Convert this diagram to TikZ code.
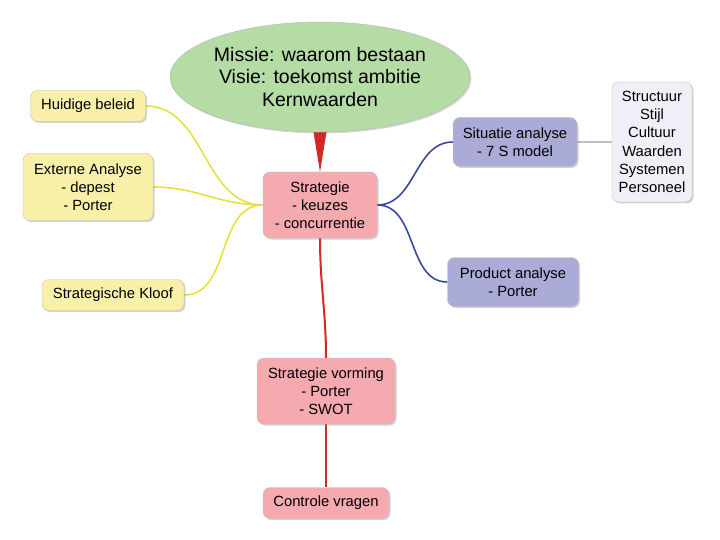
\documentclass[tikz,border=0pt]{standalone}
\usepackage{fontspec}
\setmainfont{Liberation Sans}
\usetikzlibrary{shapes.geometric,shadows,positioning,backgrounds}
\definecolor{mapgreen}{HTML}{B6DCA6}
\definecolor{mapred}{HTML}{F5AAB0}
\definecolor{mapyellow}{HTML}{F8F0A8}
\definecolor{mapblue}{HTML}{ABABD8}
\definecolor{maplilac}{HTML}{EFEFF8}
\definecolor{linkyellow}{HTML}{E8E040}
\definecolor{linkblue}{HTML}{3A4A98}
\definecolor{linkred}{HTML}{D42828}

\begin{document}
\begin{tikzpicture}[
  x=1pt, y=-1pt,
  mapbox/.style={draw=black!25, rounded corners=7pt, align=center,
    font=\fontsize{14.8}{18.2}\selectfont, inner xsep=6pt, inner ysep=5pt,
    drop shadow={shadow xshift=1.5pt, shadow yshift=-1.5pt, opacity=0.35}},
  central/.style={mapbox, fill=mapred},
  leftbox/.style={mapbox, fill=mapyellow},
  rightbox/.style={mapbox, fill=mapblue},
  yellowlink/.style={linkyellow, line width=1.6pt},
  bluelink/.style={linkblue, line width=1.6pt},
  redlink/.style={linkred, line width=2pt}
]
\useasboundingbox (0,0) rectangle (720,540);

\node[ellipse, draw=black!30, fill=mapgreen, minimum width=294pt, minimum height=110pt,
  inner sep=0pt, align=center, font=\fontsize{19.5}{22.5}\selectfont,
  drop shadow={shadow xshift=1.5pt, shadow yshift=-1.5pt, opacity=0.3}]
  (missie) at (320,77) {Missie: waarom bestaan\\Visie: toekomst ambitie\\Kernwaarden};
\node[central, minimum width=114pt, minimum height=66pt] (strat) at (320,205) {Strategie\\- keuzes\\- concurrentie};
\node[leftbox, minimum width=115pt, minimum height=31pt] (huidig) at (88,106) {Huidige beleid};
\node[leftbox, minimum width=130pt, minimum height=67pt] (extern) at (88,187) {Externe Analyse\\- depest\\- Porter};
\node[leftbox, minimum width=142pt, minimum height=31pt] (kloof) at (113,295) {Strategische Kloof};
\node[rightbox, minimum width=124pt, minimum height=49pt] (situatie) at (515,142) {Situatie analyse\\- 7 S model};
\node[mapbox, fill=maplilac, minimum width=80pt, minimum height=120pt, inner xsep=3pt] (zevens) at (652,142)
  {Structuur\\Stijl\\Cultuur\\Waarden\\Systemen\\Personeel};
\node[rightbox, minimum width=131pt, minimum height=49pt] (product) at (513,282) {Product analyse\\- Porter};
\node[central, minimum width=138pt, minimum height=66pt] (vorming) at (326,391) {Strategie vorming\\- Porter\\- SWOT};
\node[central, minimum width=126pt, minimum height=31pt] (controle) at (326,503) {Controle vragen};

% takken achter de vakken
\begin{scope}[on background layer]
\fill[linkred] (missie.south) ++(-7,-3) -- ++(14,0) -- (strat.north) -- cycle;
\draw[yellowlink] (strat.west) to[out=180, in=0] (huidig.east);
\draw[yellowlink] (strat.west) to[out=180, in=0] (extern.east);
\draw[yellowlink] (strat.west) to[out=180, in=0] (kloof.east);
\draw[bluelink] (strat.east) to[out=0, in=180] (situatie.west);
\draw[bluelink] (strat.east) to[out=0, in=180] (product.west);
\draw[black!25, line width=2pt] (situatie.east) -- (zevens.west);
\draw[redlink] (strat.south) to[out=-90, in=90] (vorming.north);
\draw[redlink] (vorming.south) -- (controle.north);
\end{scope}
\end{tikzpicture}
\end{document}
